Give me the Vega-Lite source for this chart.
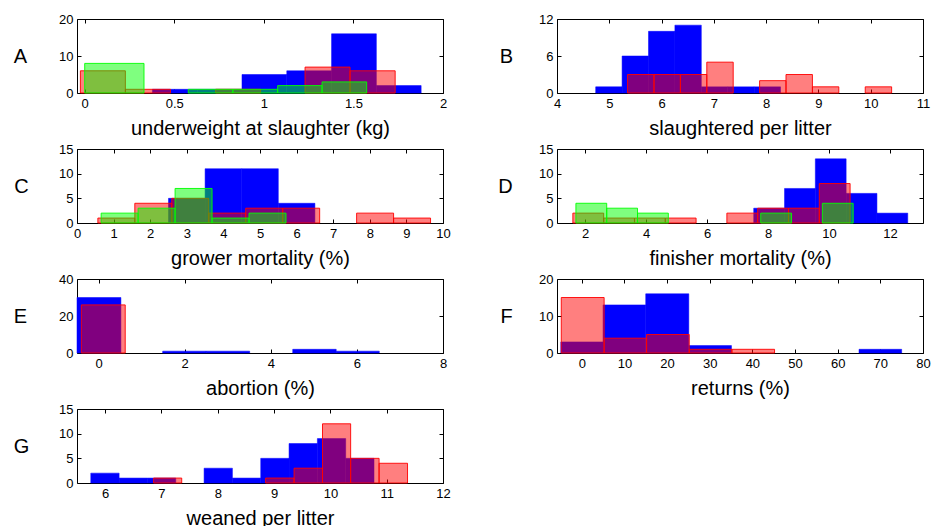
{
  "$schema": "https://vega.github.io/schema/vega-lite/v6.json",
  "background": "white",
  "padding": {"left": 13, "top": 13, "right": 0, "bottom": 0},
  "spacing": {"row": 5, "column": 46},
  "columns": 2,
  "data": {"values": [
    {"p":"A","s":"b","x0":0.378,"x1":0.628,"n":1},{"p":"A","s":"b","x0":0.628,"x1":0.878,"n":1},{"p":"A","s":"b","x0":0.878,"x1":1.128,"n":5},{"p":"A","s":"b","x0":1.128,"x1":1.378,"n":6},{"p":"A","s":"b","x0":1.378,"x1":1.628,"n":16},{"p":"A","s":"b","x0":1.628,"x1":1.878,"n":2},
    {"p":"A","s":"r","x0":-0.024,"x1":0.227,"n":6},{"p":"A","s":"r","x0":0.227,"x1":0.479,"n":1},{"p":"A","s":"r","x0":0.731,"x1":0.982,"n":1},{"p":"A","s":"r","x0":1.23,"x1":1.481,"n":7},{"p":"A","s":"r","x0":1.481,"x1":1.733,"n":6},
    {"p":"A","s":"g","x0":0,"x1":0.331,"n":8},{"p":"A","s":"g","x0":0.578,"x1":0.827,"n":1},{"p":"A","s":"g","x0":0.827,"x1":1.077,"n":1},{"p":"A","s":"g","x0":1.077,"x1":1.325,"n":2},{"p":"A","s":"g","x0":1.325,"x1":1.574,"n":3},
    {"p":"B","s":"b","x0":4.74,"x1":5.245,"n":1},{"p":"B","s":"b","x0":5.245,"x1":5.75,"n":6},{"p":"B","s":"b","x0":5.75,"x1":6.255,"n":10},{"p":"B","s":"b","x0":6.255,"x1":6.76,"n":11},{"p":"B","s":"b","x0":6.76,"x1":7.265,"n":1},{"p":"B","s":"b","x0":7.265,"x1":7.77,"n":1},{"p":"B","s":"b","x0":7.77,"x1":8.275,"n":1},
    {"p":"B","s":"r","x0":5.35,"x1":5.855,"n":3},{"p":"B","s":"r","x0":5.855,"x1":6.36,"n":3},{"p":"B","s":"r","x0":6.36,"x1":6.865,"n":3},{"p":"B","s":"r","x0":6.865,"x1":7.37,"n":5},{"p":"B","s":"r","x0":7.875,"x1":8.38,"n":2},{"p":"B","s":"r","x0":8.38,"x1":8.885,"n":3},{"p":"B","s":"r","x0":8.885,"x1":9.39,"n":1},{"p":"B","s":"r","x0":9.895,"x1":10.4,"n":1},
    {"p":"C","s":"b","x0":2.5,"x1":3.5,"n":5},{"p":"C","s":"b","x0":3.5,"x1":4.5,"n":11},{"p":"C","s":"b","x0":4.5,"x1":5.5,"n":11},{"p":"C","s":"b","x0":5.5,"x1":6.5,"n":4},
    {"p":"C","s":"r","x0":0.57,"x1":1.58,"n":1},{"p":"C","s":"r","x0":1.58,"x1":2.59,"n":4},{"p":"C","s":"r","x0":2.59,"x1":3.6,"n":5},{"p":"C","s":"r","x0":3.6,"x1":4.61,"n":2},{"p":"C","s":"r","x0":4.61,"x1":5.62,"n":3},{"p":"C","s":"r","x0":5.62,"x1":6.63,"n":3},{"p":"C","s":"r","x0":7.64,"x1":8.65,"n":2},{"p":"C","s":"r","x0":8.65,"x1":9.66,"n":1},
    {"p":"C","s":"g","x0":0.66,"x1":1.67,"n":2},{"p":"C","s":"g","x0":1.67,"x1":2.68,"n":3},{"p":"C","s":"g","x0":2.68,"x1":3.69,"n":7},{"p":"C","s":"g","x0":3.69,"x1":4.7,"n":1},{"p":"C","s":"g","x0":4.7,"x1":5.71,"n":2},
    {"p":"D","s":"b","x0":7.53,"x1":8.54,"n":3},{"p":"D","s":"b","x0":8.54,"x1":9.55,"n":7},{"p":"D","s":"b","x0":9.55,"x1":10.56,"n":13},{"p":"D","s":"b","x0":10.56,"x1":11.57,"n":6},{"p":"D","s":"b","x0":11.57,"x1":12.58,"n":2},
    {"p":"D","s":"r","x0":1.6,"x1":2.61,"n":2},{"p":"D","s":"r","x0":2.61,"x1":3.62,"n":1},{"p":"D","s":"r","x0":3.62,"x1":4.63,"n":1},{"p":"D","s":"r","x0":4.63,"x1":5.64,"n":1},{"p":"D","s":"r","x0":6.65,"x1":7.66,"n":2},{"p":"D","s":"r","x0":7.66,"x1":8.67,"n":3},{"p":"D","s":"r","x0":8.67,"x1":9.68,"n":3},{"p":"D","s":"r","x0":9.68,"x1":10.69,"n":8},
    {"p":"D","s":"g","x0":1.7,"x1":2.71,"n":4},{"p":"D","s":"g","x0":2.71,"x1":3.72,"n":3},{"p":"D","s":"g","x0":3.72,"x1":4.73,"n":2},{"p":"D","s":"g","x0":7.76,"x1":8.77,"n":2},{"p":"D","s":"g","x0":9.78,"x1":10.79,"n":4},
    {"p":"E","s":"b","x0":-0.5,"x1":0.52,"n":30},{"p":"E","s":"b","x0":1.49,"x1":2.5,"n":1},{"p":"E","s":"b","x0":2.5,"x1":3.51,"n":1},{"p":"E","s":"b","x0":4.51,"x1":5.52,"n":2},{"p":"E","s":"b","x0":5.52,"x1":6.52,"n":1},
    {"p":"E","s":"r","x0":-0.4,"x1":0.62,"n":26},
    {"p":"F","s":"b","x0":-4.9,"x1":5,"n":3},{"p":"F","s":"b","x0":5,"x1":15,"n":13},{"p":"F","s":"b","x0":15,"x1":25.1,"n":16},{"p":"F","s":"b","x0":25.1,"x1":35.1,"n":2},{"p":"F","s":"b","x0":65,"x1":75,"n":1},
    {"p":"F","s":"r","x0":-4.8,"x1":5.25,"n":15},{"p":"F","s":"r","x0":5.25,"x1":15.2,"n":4},{"p":"F","s":"r","x0":15.2,"x1":25.2,"n":5},{"p":"F","s":"r","x0":25.2,"x1":35.2,"n":1},{"p":"F","s":"r","x0":35.2,"x1":45.2,"n":1},
    {"p":"G","s":"b","x0":5.745,"x1":6.248,"n":2},{"p":"G","s":"b","x0":6.248,"x1":6.751,"n":1},{"p":"G","s":"b","x0":6.751,"x1":7.254,"n":1},{"p":"G","s":"b","x0":7.757,"x1":8.26,"n":3},{"p":"G","s":"b","x0":8.26,"x1":8.763,"n":1},{"p":"G","s":"b","x0":8.763,"x1":9.266,"n":5},{"p":"G","s":"b","x0":9.266,"x1":9.769,"n":8},{"p":"G","s":"b","x0":9.769,"x1":10.272,"n":9},{"p":"G","s":"b","x0":10.272,"x1":10.775,"n":5},
    {"p":"G","s":"r","x0":6.86,"x1":7.36,"n":1},{"p":"G","s":"r","x0":8.85,"x1":9.355,"n":1},{"p":"G","s":"r","x0":9.355,"x1":9.86,"n":3},{"p":"G","s":"r","x0":9.86,"x1":10.36,"n":12},{"p":"G","s":"r","x0":10.36,"x1":10.865,"n":5},{"p":"G","s":"r","x0":10.865,"x1":11.37,"n":4}
  ]},
  "concat": [
    {"width":366,"height":74,"transform":[{"filter":"datum.p === 'A'"}],"resolve":{"axis":{"x":"independent","y":"independent"}},
     "layer":[
      {"mark":{"type":"bar","strokeWidth":1},"encoding":{
        "x":{"field":"x0","type":"quantitative","scale":{"domain":[-0.043,2],"nice":false,"zero":false,"padding":0},"axis":{"values":[0,0.5,1,1.5,2],"format":"~r","title":"underweight at slaughter (kg)"}},
        "x2":{"field":"x1"},
        "y":{"field":"n","type":"quantitative","stack":null,"scale":{"domain":[0,20],"nice":false,"padding":0},"axis":{"values":[0,10,20],"title":"A","titleX":-57}},
        "y2":{"datum":0},
        "fill":{"field":"s","type":"nominal","scale":{"domain":["b","r","g"],"range":["#0000ff","#ff0000","#00ff00"]},"legend":null},
        "stroke":{"field":"s","type":"nominal","scale":{"domain":["b","r","g"],"range":["#0000ff","#ff0000","#00ff00"]},"legend":null},
        "fillOpacity":{"condition":{"test":"datum.s === 'b'","value":1},"value":0.5},
        "strokeOpacity":{"condition":{"test":"datum.s === 'b'","value":0.5},"value":0.9}}},
      {"mark":{"type":"point","opacity":0},"encoding":{
        "x":{"field":"x0","type":"quantitative","scale":{"domain":[-0.043,2],"nice":false,"zero":false,"padding":0},"axis":{"orient":"top","values":[0,0.5,1,1.5,2],"labels":false,"title":null}},
        "y":{"field":"n","type":"quantitative","scale":{"domain":[0,20],"nice":false,"padding":0},"axis":{"orient":"right","values":[0,10,20],"labels":false,"title":null}}}}
     ]},
    {"width":366,"height":74,"transform":[{"filter":"datum.p === 'B'"}],"resolve":{"axis":{"x":"independent","y":"independent"}},
     "layer":[
      {"mark":{"type":"bar","strokeWidth":1},"encoding":{
        "x":{"field":"x0","type":"quantitative","scale":{"domain":[4,11],"nice":false,"zero":false,"padding":0},"axis":{"values":[4,5,6,7,8,9,10,11],"format":"~r","title":"slaughtered per litter"}},
        "x2":{"field":"x1"},
        "y":{"field":"n","type":"quantitative","stack":null,"scale":{"domain":[0,12],"nice":false,"padding":0},"axis":{"values":[0,6,12],"title":"B","titleX":-51}},
        "y2":{"datum":0},
        "fill":{"field":"s","type":"nominal","scale":{"domain":["b","r","g"],"range":["#0000ff","#ff0000","#00ff00"]},"legend":null},
        "stroke":{"field":"s","type":"nominal","scale":{"domain":["b","r","g"],"range":["#0000ff","#ff0000","#00ff00"]},"legend":null},
        "fillOpacity":{"condition":{"test":"datum.s === 'b'","value":1},"value":0.5},
        "strokeOpacity":{"condition":{"test":"datum.s === 'b'","value":0.5},"value":0.9}}},
      {"mark":{"type":"point","opacity":0},"encoding":{
        "x":{"field":"x0","type":"quantitative","scale":{"domain":[4,11],"nice":false,"zero":false,"padding":0},"axis":{"orient":"top","values":[4,5,6,7,8,9,10,11],"labels":false,"title":null}},
        "y":{"field":"n","type":"quantitative","scale":{"domain":[0,12],"nice":false,"padding":0},"axis":{"orient":"right","values":[0,6,12],"labels":false,"title":null}}}}
     ]},
    {"width":366,"height":74,"transform":[{"filter":"datum.p === 'C'"}],"resolve":{"axis":{"x":"independent","y":"independent"}},
     "layer":[
      {"mark":{"type":"bar","strokeWidth":1},"encoding":{
        "x":{"field":"x0","type":"quantitative","scale":{"domain":[0,10],"nice":false,"zero":false,"padding":0},"axis":{"values":[0,1,2,3,4,5,6,7,8,9,10],"format":"~r","title":"grower mortality (%)"}},
        "x2":{"field":"x1"},
        "y":{"field":"n","type":"quantitative","stack":null,"scale":{"domain":[0,15],"nice":false,"padding":0},"axis":{"values":[0,5,10,15],"title":"C","titleX":-56}},
        "y2":{"datum":0},
        "fill":{"field":"s","type":"nominal","scale":{"domain":["b","r","g"],"range":["#0000ff","#ff0000","#00ff00"]},"legend":null},
        "stroke":{"field":"s","type":"nominal","scale":{"domain":["b","r","g"],"range":["#0000ff","#ff0000","#00ff00"]},"legend":null},
        "fillOpacity":{"condition":{"test":"datum.s === 'b'","value":1},"value":0.5},
        "strokeOpacity":{"condition":{"test":"datum.s === 'b'","value":0.5},"value":0.9}}},
      {"mark":{"type":"point","opacity":0},"encoding":{
        "x":{"field":"x0","type":"quantitative","scale":{"domain":[0,10],"nice":false,"zero":false,"padding":0},"axis":{"orient":"top","values":[0,1,2,3,4,5,6,7,8,9,10],"labels":false,"title":null}},
        "y":{"field":"n","type":"quantitative","scale":{"domain":[0,15],"nice":false,"padding":0},"axis":{"orient":"right","values":[0,5,10,15],"labels":false,"title":null}}}}
     ]},
    {"width":366,"height":74,"transform":[{"filter":"datum.p === 'D'"}],"resolve":{"axis":{"x":"independent","y":"independent"}},
     "layer":[
      {"mark":{"type":"bar","strokeWidth":1},"encoding":{
        "x":{"field":"x0","type":"quantitative","scale":{"domain":[1.08,13.08],"nice":false,"zero":false,"padding":0},"axis":{"values":[2,4,6,8,10,12],"format":"~r","title":"finisher mortality (%)"}},
        "x2":{"field":"x1"},
        "y":{"field":"n","type":"quantitative","stack":null,"scale":{"domain":[0,15],"nice":false,"padding":0},"axis":{"values":[0,5,10,15],"title":"D","titleX":-52}},
        "y2":{"datum":0},
        "fill":{"field":"s","type":"nominal","scale":{"domain":["b","r","g"],"range":["#0000ff","#ff0000","#00ff00"]},"legend":null},
        "stroke":{"field":"s","type":"nominal","scale":{"domain":["b","r","g"],"range":["#0000ff","#ff0000","#00ff00"]},"legend":null},
        "fillOpacity":{"condition":{"test":"datum.s === 'b'","value":1},"value":0.5},
        "strokeOpacity":{"condition":{"test":"datum.s === 'b'","value":0.5},"value":0.9}}},
      {"mark":{"type":"point","opacity":0},"encoding":{
        "x":{"field":"x0","type":"quantitative","scale":{"domain":[1.08,13.08],"nice":false,"zero":false,"padding":0},"axis":{"orient":"top","values":[2,4,6,8,10,12],"labels":false,"title":null}},
        "y":{"field":"n","type":"quantitative","scale":{"domain":[0,15],"nice":false,"padding":0},"axis":{"orient":"right","values":[0,5,10,15],"labels":false,"title":null}}}}
     ]},
    {"width":366,"height":74,"transform":[{"filter":"datum.p === 'E'"}],"resolve":{"axis":{"x":"independent","y":"independent"}},
     "layer":[
      {"mark":{"type":"bar","strokeWidth":1},"encoding":{
        "x":{"field":"x0","type":"quantitative","scale":{"domain":[-0.5,8],"nice":false,"zero":false,"padding":0},"axis":{"values":[0,2,4,6,8],"format":"~r","title":"abortion (%)"}},
        "x2":{"field":"x1"},
        "y":{"field":"n","type":"quantitative","stack":null,"scale":{"domain":[0,40],"nice":false,"padding":0},"axis":{"values":[0,20,40],"title":"E","titleX":-57}},
        "y2":{"datum":0},
        "fill":{"field":"s","type":"nominal","scale":{"domain":["b","r","g"],"range":["#0000ff","#ff0000","#00ff00"]},"legend":null},
        "stroke":{"field":"s","type":"nominal","scale":{"domain":["b","r","g"],"range":["#0000ff","#ff0000","#00ff00"]},"legend":null},
        "fillOpacity":{"condition":{"test":"datum.s === 'b'","value":1},"value":0.5},
        "strokeOpacity":{"condition":{"test":"datum.s === 'b'","value":0.5},"value":0.9}}},
      {"mark":{"type":"point","opacity":0},"encoding":{
        "x":{"field":"x0","type":"quantitative","scale":{"domain":[-0.5,8],"nice":false,"zero":false,"padding":0},"axis":{"orient":"top","values":[0,2,4,6,8],"labels":false,"title":null}},
        "y":{"field":"n","type":"quantitative","scale":{"domain":[0,40],"nice":false,"padding":0},"axis":{"orient":"right","values":[0,20,40],"labels":false,"title":null}}}}
     ]},
    {"width":366,"height":74,"transform":[{"filter":"datum.p === 'F'"}],"resolve":{"axis":{"x":"independent","y":"independent"}},
     "layer":[
      {"mark":{"type":"bar","strokeWidth":1},"encoding":{
        "x":{"field":"x0","type":"quantitative","scale":{"domain":[-5.8,80],"nice":false,"zero":false,"padding":0},"axis":{"values":[0,10,20,30,40,50,60,70,80],"format":"~r","title":"returns (%)"}},
        "x2":{"field":"x1"},
        "y":{"field":"n","type":"quantitative","stack":null,"scale":{"domain":[0,20],"nice":false,"padding":0},"axis":{"values":[0,10,20],"title":"F","titleX":-51}},
        "y2":{"datum":0},
        "fill":{"field":"s","type":"nominal","scale":{"domain":["b","r","g"],"range":["#0000ff","#ff0000","#00ff00"]},"legend":null},
        "stroke":{"field":"s","type":"nominal","scale":{"domain":["b","r","g"],"range":["#0000ff","#ff0000","#00ff00"]},"legend":null},
        "fillOpacity":{"condition":{"test":"datum.s === 'b'","value":1},"value":0.5},
        "strokeOpacity":{"condition":{"test":"datum.s === 'b'","value":0.5},"value":0.9}}},
      {"mark":{"type":"point","opacity":0},"encoding":{
        "x":{"field":"x0","type":"quantitative","scale":{"domain":[-5.8,80],"nice":false,"zero":false,"padding":0},"axis":{"orient":"top","values":[0,10,20,30,40,50,60,70,80],"labels":false,"title":null}},
        "y":{"field":"n","type":"quantitative","scale":{"domain":[0,20],"nice":false,"padding":0},"axis":{"orient":"right","values":[0,10,20],"labels":false,"title":null}}}}
     ]},
    {"width":366,"height":74,"transform":[{"filter":"datum.p === 'G'"}],"resolve":{"axis":{"x":"independent","y":"independent"}},
     "layer":[
      {"mark":{"type":"bar","strokeWidth":1},"encoding":{
        "x":{"field":"x0","type":"quantitative","scale":{"domain":[5.5,12],"nice":false,"zero":false,"padding":0},"axis":{"values":[6,7,8,9,10,11,12],"format":"~r","title":"weaned per litter"}},
        "x2":{"field":"x1"},
        "y":{"field":"n","type":"quantitative","stack":null,"scale":{"domain":[0,15],"nice":false,"padding":0},"axis":{"values":[0,5,10,15],"title":"G","titleX":-56}},
        "y2":{"datum":0},
        "fill":{"field":"s","type":"nominal","scale":{"domain":["b","r","g"],"range":["#0000ff","#ff0000","#00ff00"]},"legend":null},
        "stroke":{"field":"s","type":"nominal","scale":{"domain":["b","r","g"],"range":["#0000ff","#ff0000","#00ff00"]},"legend":null},
        "fillOpacity":{"condition":{"test":"datum.s === 'b'","value":1},"value":0.5},
        "strokeOpacity":{"condition":{"test":"datum.s === 'b'","value":0.5},"value":0.9}}},
      {"mark":{"type":"point","opacity":0},"encoding":{
        "x":{"field":"x0","type":"quantitative","scale":{"domain":[5.5,12],"nice":false,"zero":false,"padding":0},"axis":{"orient":"top","values":[6,7,8,9,10,11,12],"labels":false,"title":null}},
        "y":{"field":"n","type":"quantitative","scale":{"domain":[0,15],"nice":false,"padding":0},"axis":{"orient":"right","values":[0,5,10,15],"labels":false,"title":null}}}}
     ]}
  ],
  "config": {
    "font": "Liberation Sans",
    "view": {"stroke": null},
    "axis": {"grid": false, "domain": true, "domainColor": "black", "domainWidth": 1, "tickColor": "black", "tickSize": -4, "tickWidth": 1, "labelColor": "black", "labelFontSize": 13, "labelFlush": false, "labelOverlap": false, "titleColor": "black", "titleFontWeight": "normal", "titleFontSize": 20, "zindex": 1},
    "axisX": {"titlePadding": 8, "labelPadding": 8},
    "axisY": {"labelPadding": 8, "titleAngle": 0, "titleY": 37, "titleAlign": "center", "titleBaseline": "middle", "titleFontSize": 20}
  }
}
